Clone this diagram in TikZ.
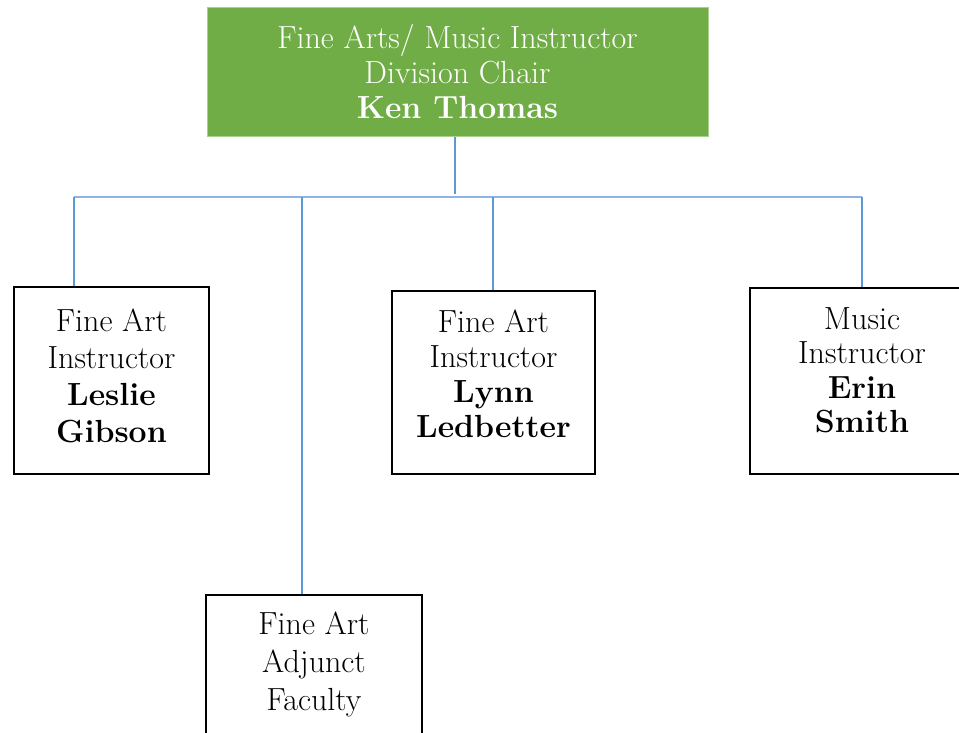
\documentclass[tikz,border=0pt]{standalone}
\definecolor{chairgreen}{RGB}{112,173,71}
\definecolor{chairborder}{RGB}{169,209,142}
\definecolor{hblue}{RGB}{141,180,226}
\definecolor{vblue}{RGB}{91,155,213}
\tikzset{
  staffbox/.style={draw=black, line width=2pt, fill=white, inner sep=0pt},
  chairbox/.style={draw=chairborder, line width=1pt, fill=chairgreen, inner sep=0pt},
  txt/.style={inner sep=0pt, align=center, font=\fontsize{32}{37}\selectfont},
  hconn/.style={draw=hblue, line width=1.6pt},
  vconn/.style={draw=vblue, line width=1.3pt}
}
\begin{document}
\begin{tikzpicture}[x=1pt,y=-1pt]
\useasboundingbox (0,0) rectangle (959,733);
\clip (0,0) rectangle (959,733);
% boxes
\node[chairbox, minimum width=501pt, minimum height=129pt] (chair) at (457.5,72.5) {};
\node[staffbox, minimum width=195pt, minimum height=187pt] (b1) at (111.5,380.5) {};
\node[staffbox, minimum width=203pt, minimum height=183pt] (b2) at (493.5,382.5) {};
\node[staffbox, minimum width=225pt, minimum height=186pt] (b3) at (862.5,381) {};
\node[staffbox, minimum width=216pt, minimum height=155pt] (b4) at (314,672.5) {};
% texts
\node[txt, text=white, font=\fontsize{32}{35}\selectfont] (tchair) at (457.5,71.5) {Fine Arts/ Music Instructor\\Division Chair\\\textbf{Ken Thomas}};
\node[txt] (t1) at (111.5,376) {Fine Art\\Instructor\\\textbf{Leslie}\\\textbf{Gibson}};
\node[txt, font=\fontsize{32}{35}\selectfont] (t2) at (493.5,374) {Fine Art\\Instructor\\\textbf{Lynn}\\\textbf{Ledbetter}};
\node[txt, font=\fontsize{32}{34.5}\selectfont] (t3) at (862,370.5) {Music\\Instructor\\\textbf{Erin}\\\textbf{Smith}};
\node[txt, font=\fontsize{32}{38}\selectfont] (t4) at (314,664) {Fine Art\\Adjunct\\Faculty};
% connectors
\coordinate (hy) at (455,197);
\coordinate (j1) at (74,197);
\coordinate (j4) at (302,197);
\coordinate (j2) at (493,197);
\coordinate (j3) at (862,197);
\draw[vconn] (chair.south -| hy) -- (455,194);
\draw[hconn] (j1) -- (j3);
\draw[vconn] (j1) -- (j1 |- b1.north);
\draw[vconn] (j4) -- (j4 |- b4.north);
\draw[vconn] (j2) -- (j2 |- b2.north);
\draw[vconn] (j3) -- (j3 |- b3.north);
\end{tikzpicture}
\end{document}
